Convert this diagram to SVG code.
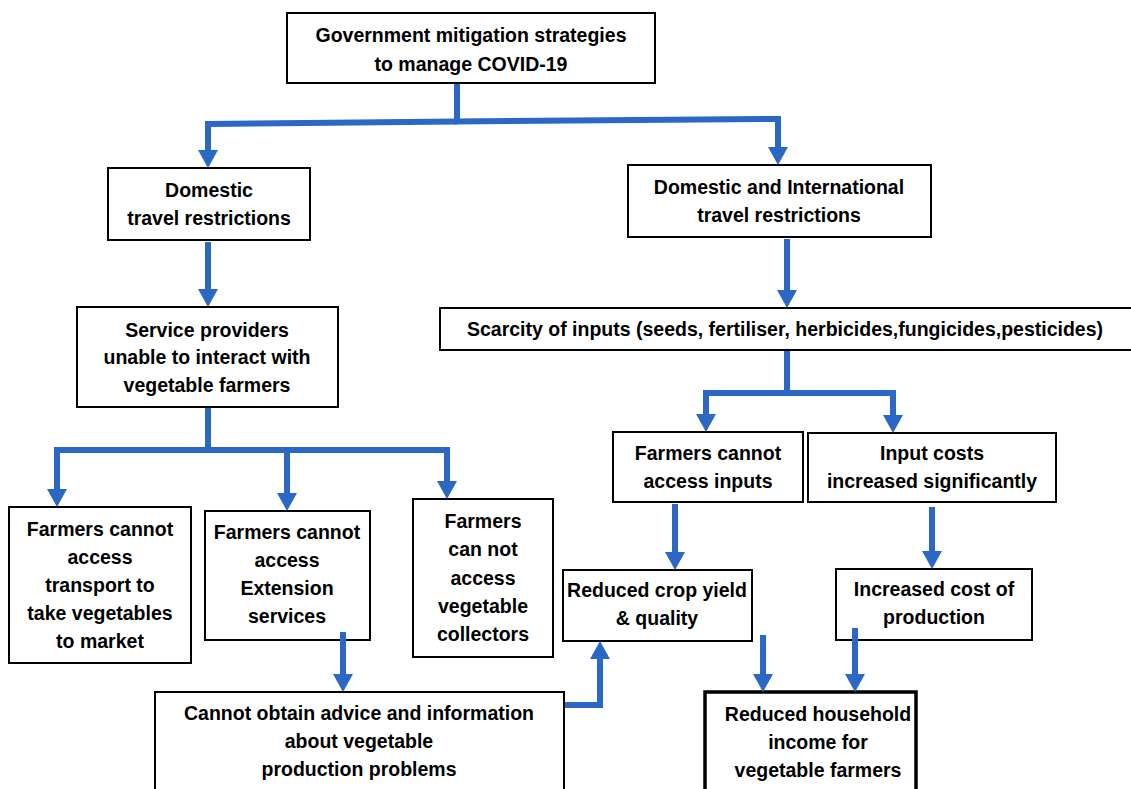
<svg xmlns="http://www.w3.org/2000/svg" width="1131" height="789" viewBox="0 0 1131 789">
<style>
.box{fill:#fff;stroke:#000;stroke-width:2}
.thick{stroke-width:3.5}
text{font-family:"Liberation Sans",Arial,sans-serif;font-weight:bold;font-size:19.5px;fill:#000;text-anchor:middle}
.c{fill:none;stroke:#2B68C4;stroke-width:6;stroke-linejoin:miter}
</style>
<defs>
<marker id="ah" markerUnits="userSpaceOnUse" markerWidth="18" markerHeight="20" refX="8" refY="10" orient="auto" viewBox="0 0 18 20">
<path d="M0,0 L18,10 L0,20 z" fill="#2B68C4"/>
</marker>
</defs>
<rect width="1131" height="789" fill="#fff"/>
<g id="n-gov"><rect class="box" x="287" y="13" width="368" height="70"/><text x="471" y="42">Government mitigation strategies</text><text x="471" y="71">to manage COVID-19</text></g>
<g id="n-dom"><rect class="box" x="108" y="168" width="202" height="72"/><text x="209" y="197">Domestic</text><text x="209" y="225">travel restrictions</text></g>
<g id="n-domint"><rect class="box" x="628" y="165" width="303" height="72"/><text x="779" y="194">Domestic and International</text><text x="779" y="222">travel restrictions</text></g>
<g id="n-service"><rect class="box" x="77" y="307" width="261" height="100"/><text x="207" y="337">Service providers</text><text x="207" y="364">unable to interact with</text><text x="207" y="392">vegetable farmers</text></g>
<g id="n-scarcity"><rect class="box" x="440" y="308" width="695" height="42"/><text x="785" y="336">Scarcity of inputs (seeds, fertiliser, herbicides,fungicides,pesticides)</text></g>
<g id="n-access-inputs"><rect class="box" x="613" y="432" width="190" height="70"/><text x="708" y="460">Farmers cannot</text><text x="708" y="488">access inputs</text></g>
<g id="n-input-costs"><rect class="box" x="808" y="433" width="248" height="69"/><text x="932" y="460">Input costs</text><text x="932" y="488">increased significantly</text></g>
<g id="n-transport"><rect class="box" x="9" y="507" width="182" height="156"/><text x="100" y="536">Farmers cannot</text><text x="100" y="564">access</text><text x="100" y="592">transport to</text><text x="100" y="620">take vegetables</text><text x="100" y="648">to market</text></g>
<g id="n-extension"><rect class="box" x="205" y="511" width="165" height="129"/><text x="287" y="539">Farmers cannot</text><text x="287" y="567">access</text><text x="287" y="595">Extension</text><text x="287" y="623">services</text></g>
<g id="n-collectors"><rect class="box" x="413" y="499" width="140" height="158"/><text x="483" y="528">Farmers</text><text x="483" y="556">can not</text><text x="483" y="585">access</text><text x="483" y="613">vegetable</text><text x="483" y="641">collectors</text></g>
<g id="n-yield"><rect class="box" x="563" y="570" width="189" height="71"/><text x="657" y="597">Reduced crop yield</text><text x="657" y="625">&amp; quality</text></g>
<g id="n-cost"><rect class="box" x="836" y="569" width="196" height="71"/><text x="934" y="596">Increased cost of</text><text x="934" y="624">production</text></g>
<g id="n-advice"><rect class="box" x="155" y="692" width="409" height="100"/><text x="359" y="720">Cannot obtain advice and information</text><text x="359" y="748">about vegetable</text><text x="359" y="776">production  problems</text></g>
<g id="n-income"><rect class="box thick" x="705" y="692" width="211" height="100"/><text x="818" y="721">Reduced household</text><text x="818" y="749">income for</text><text x="818" y="777">vegetable farmers</text></g>
<g id="connectors">
<path class="c" d="M457,84 V123"/>
<path class="c" d="M457,121.5 L208,124 V158" marker-end="url(#ah)"/>
<path class="c" d="M454,121.5 L778,119 V155" marker-end="url(#ah)"/>
<path class="c" d="M208,242 V297" marker-end="url(#ah)"/>
<path class="c" d="M787,239 V298" marker-end="url(#ah)"/>
<path class="c" d="M208,408 V453"/>
<path class="c" d="M211,450 H57 V497" marker-end="url(#ah)"/>
<path class="c" d="M205,450 H287 V501" marker-end="url(#ah)"/>
<path class="c" d="M205,450 H447 V489" marker-end="url(#ah)"/>
<path class="c" d="M787,351 V396"/>
<path class="c" d="M790,393 H706 V422" marker-end="url(#ah)"/>
<path class="c" d="M784,393 H893 V423" marker-end="url(#ah)"/>
<path class="c" d="M675,504 V560" marker-end="url(#ah)"/>
<path class="c" d="M932,507 V559" marker-end="url(#ah)"/>
<path class="c" d="M343,632 V682" marker-end="url(#ah)"/>
<path class="c" d="M565,705 H600 V651" marker-end="url(#ah)"/>
<path class="c" d="M763,635 V682" marker-end="url(#ah)"/>
<path class="c" d="M855,628 V682" marker-end="url(#ah)"/>
</g>
</svg>
